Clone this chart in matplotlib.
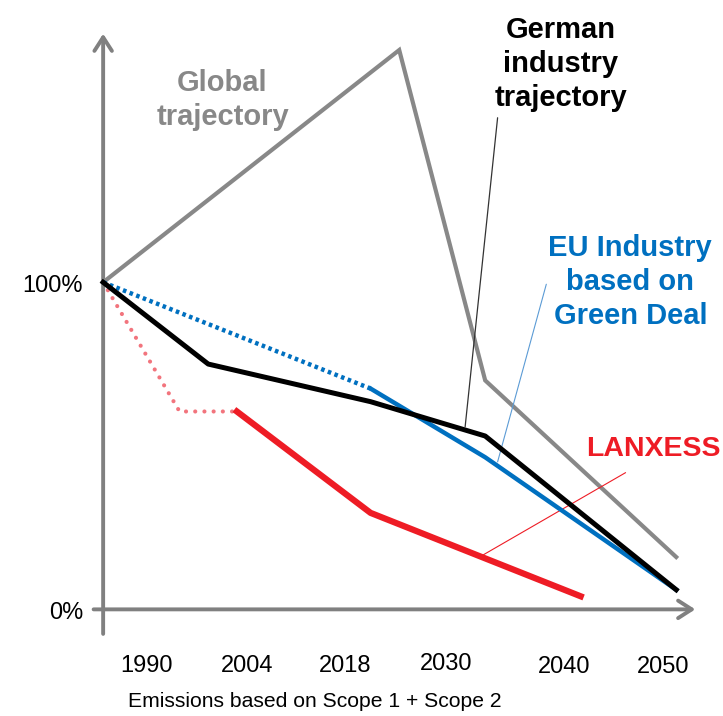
import matplotlib
matplotlib.use('Agg')
import matplotlib.pyplot as plt

plt.rcParams['font.family'] = ['Liberation Sans', 'DejaVu Sans']

# schematic emission paths, % of 1990 level
global_years = [1990, 2021, 2030, 2050]
global_vals = [100, 171, 70, 16]

german_years = [1990, 2001, 2018, 2030, 2050]
german_vals = [100, 75, 63.5, 53, 6]

eu_past_years = [1990, 2018]
eu_past_vals = [100, 67.5]
eu_years = [2018, 2030, 2050]
eu_vals = [67.5, 46.5, 6]

lanxess_past_years = [1990, 1998, 2004]
lanxess_past_vals = [100, 60.5, 60.5]
lanxess_years = [2004, 2018, 2040]
lanxess_vals = [60.5, 29.5, 4]

tick_labels = ['1990', '2004', '2018', '2030', '2040', '2050']
y_labels = ['100%', '0%']
y_label_vals = [100, 0]

GRAY = '#888888'
AXIS = '#808080'
BLUE = '#0070C0'
RED = '#EE1C25'
LIGHT_RED = '#F2747D'

fig = plt.figure(figsize=(7.23, 7.16), dpi=100)
ax = fig.add_axes([0, 0, 1, 1])
ax.set_xlim(1979.2, 2054.9)
ax.set_ylim(-32.6, 186.3)
ax.axis('off')

# axes with open arrow heads
arrow = dict(arrowstyle='->,head_length=0.7,head_width=0.45', color=AXIS, lw=2.8,
             shrinkA=0, shrinkB=0, mutation_scale=14)
ax.annotate('', xy=(1990, 176), xytext=(1990, -7.5), arrowprops=arrow)
ax.annotate('', xy=(2052, 0), xytext=(1989, 0), arrowprops=arrow)

ax.plot(global_years, global_vals, color=GRAY, lw=3, solid_joinstyle='miter', zorder=3)
ax.plot(lanxess_past_years, lanxess_past_vals, color=LIGHT_RED, lw=3,
        linestyle=(0, (0.01, 2.2)), dash_capstyle='round', zorder=2)
ax.plot(lanxess_years, lanxess_vals, color=RED, lw=4.5, zorder=4)
ax.plot(eu_past_years, eu_past_vals, color=BLUE, lw=3.2, linestyle=(0, (0.8, 0.8)), zorder=4)
ax.plot(eu_years, eu_vals, color=BLUE, lw=3.2, zorder=4)
ax.plot(german_years, german_vals, color='black', lw=3.6, zorder=5)

# leader lines
ax.annotate('', xy=(2027.9, 55.8), xytext=(2031.3, 150.3),
            arrowprops=dict(arrowstyle='-', color='#333333', lw=0.9, shrinkA=0, shrinkB=0))
ax.annotate('', xy=(2031.3, 45.1), xytext=(2036.4, 99.4),
            arrowprops=dict(arrowstyle='-', color='#5B9BD5', lw=0.8, shrinkA=0, shrinkB=0))
ax.annotate('', xy=(2029.7, 16.5), xytext=(2044.7, 41.8),
            arrowprops=dict(arrowstyle='-', color=RED, lw=0.8, shrinkA=0, shrinkB=0))

# series labels
lbl = dict(fontsize=21, fontweight='bold', ha='center', va='center', linespacing=1.27)
ax.text(2002.5, 155.8, 'Global\ntrajectory', color=GRAY, **lbl)
ax.text(2037.9, 166.8, 'German\nindustry\ntrajectory', color='black', **lbl)
ax.text(2045.2, 100.0, 'EU Industry\nbased on\nGreen Deal', color=BLUE, **lbl)
ax.text(2047.6, 49.1, 'LANXESS', color=RED, fontsize=20.5, fontweight='bold',
        ha='center', va='center')

# tick labels sit under the axis, not under the vertices
tick_x = [1994.5, 2005.1, 2015.3, 2025.9, 2038.3, 2048.6]
tick_y = [-17.2, -17.2, -17.2, -16.6, -17.6, -17.6]
for lab, tx, ty in zip(tick_labels, tick_x, tick_y):
    ax.text(tx, ty, lab, fontsize=17, ha='center', va='center')

for lab, v in zip(y_labels, y_label_vals):
    ax.text(1987.9, v - 1.0, lab, fontsize=17, ha='right', va='center')

ax.text(2012.2, -30.0, 'Emissions based on Scope 1 + Scope 2', fontsize=15.2,
        ha='center', va='baseline')

fig.savefig('out.png', dpi=100)
plt.close()
